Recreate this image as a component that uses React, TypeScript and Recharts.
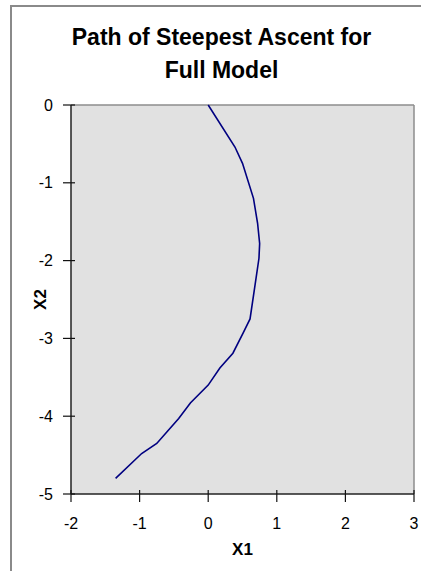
import { LineChart, Line, XAxis, YAxis, CartesianGrid, ReferenceLine } from 'recharts';

const x1Values = [0, 0.39, 0.5, 0.66, 0.72, 0.75, 0.74, 0.68, 0.61, 0.51, 0.36, 0.17, 0.0, -0.26, -0.43, -0.6, -0.75, -0.97, -1.35];
const x2Values = [0, -0.54, -0.75, -1.2, -1.52, -1.78, -1.97, -2.33, -2.75, -2.93, -3.19, -3.38, -3.6, -3.83, -4.03, -4.2, -4.35, -4.48, -4.8];
const xTicks = [-2, -1, 0, 1, 2, 3];
const yTicks = [-5, -4, -3, -2, -1, 0];

const font = '"Liberation Sans", Arial, sans-serif';

const data = x1Values.map((x, i) => ({ x1: x, x2: x2Values[i] }));

// tick marks cross the axis line, like the old spreadsheet charts
function YTick(props: any) {
  const { x, y, payload } = props;
  return (
    <g>
      <line x1={x - 6} x2={x + 6} y1={y} y2={y} stroke="#111" strokeWidth={1.2} />
      <text x={x - 16} y={y} textAnchor="end" dominantBaseline="central" fontSize={16} fill="#000" fontFamily={font}>
        {payload.value}
      </text>
    </g>
  );
}

function XTick(props: any) {
  const { x, y, payload } = props;
  return (
    <g>
      <line x1={x} x2={x} y1={y - 6} y2={y + 6} stroke="#111" strokeWidth={1.2} />
      <text x={x} y={y + 33} textAnchor="middle" fontSize={16} fill="#000" fontFamily={font}>
        {payload.value}
      </text>
    </g>
  );
}

export default function App() {
  return (
    <div style={{ position: 'relative', width: 421, height: 571, background: '#fff', fontFamily: font }}>
      <style>{'body{margin:0}'}</style>
      {/* chart frame, cut off on the right and bottom */}
      <div
        style={{
          position: 'absolute',
          left: 10,
          top: 5,
          width: 430,
          height: 600,
          borderLeft: '2px solid #8a8a8a',
          borderTop: '2px solid #8a8a8a',
        }}
      />
      <div
        style={{
          position: 'absolute',
          left: 11,
          width: 421,
          top: 21,
          textAlign: 'center',
          fontWeight: 'bold',
          fontSize: 23,
          lineHeight: '33px',
          color: '#000',
        }}
      >
        Path of Steepest Ascent for
        <br />
        Full Model
      </div>
      <div style={{ position: 'absolute', left: 0, top: 0 }}>
        <LineChart width={421} height={571} data={data} margin={{ top: 105, right: 7, bottom: 0, left: 0 }}>
          <CartesianGrid horizontal={false} vertical={false} fill="#e1e1e1" />
          <ReferenceLine y={0} stroke="#8c8c8c" strokeWidth={1.5} />
          <ReferenceLine x={3} stroke="#8c8c8c" strokeWidth={1.5} />
          <XAxis
            type="number"
            dataKey="x1"
            domain={[-2, 3]}
            ticks={xTicks}
            height={77}
            tickSize={0}
            tickLine={false}
            tick={<XTick />}
            axisLine={{ stroke: '#222', strokeWidth: 1.5 }}
            label={{ value: 'X1', position: 'center', dy: 16, fontSize: 17, fontWeight: 'bold', fill: '#000', fontFamily: font }}
          />
          <YAxis
            type="number"
            dataKey="x2"
            domain={[-5, 0]}
            ticks={yTicks}
            width={71}
            tickSize={0}
            tickLine={false}
            tick={<YTick />}
            axisLine={{ stroke: '#222', strokeWidth: 1.5 }}
            label={{ value: 'X2', angle: -90, position: 'center', dx: 4, fontSize: 17, fontWeight: 'bold', fill: '#000', fontFamily: font }}
          />
          <Line
            type="linear"
            dataKey="x2"
            stroke="#000080"
            strokeWidth={1.6}
            dot={false}
            isAnimationActive={false}
          />
        </LineChart>
      </div>
    </div>
  );
}
